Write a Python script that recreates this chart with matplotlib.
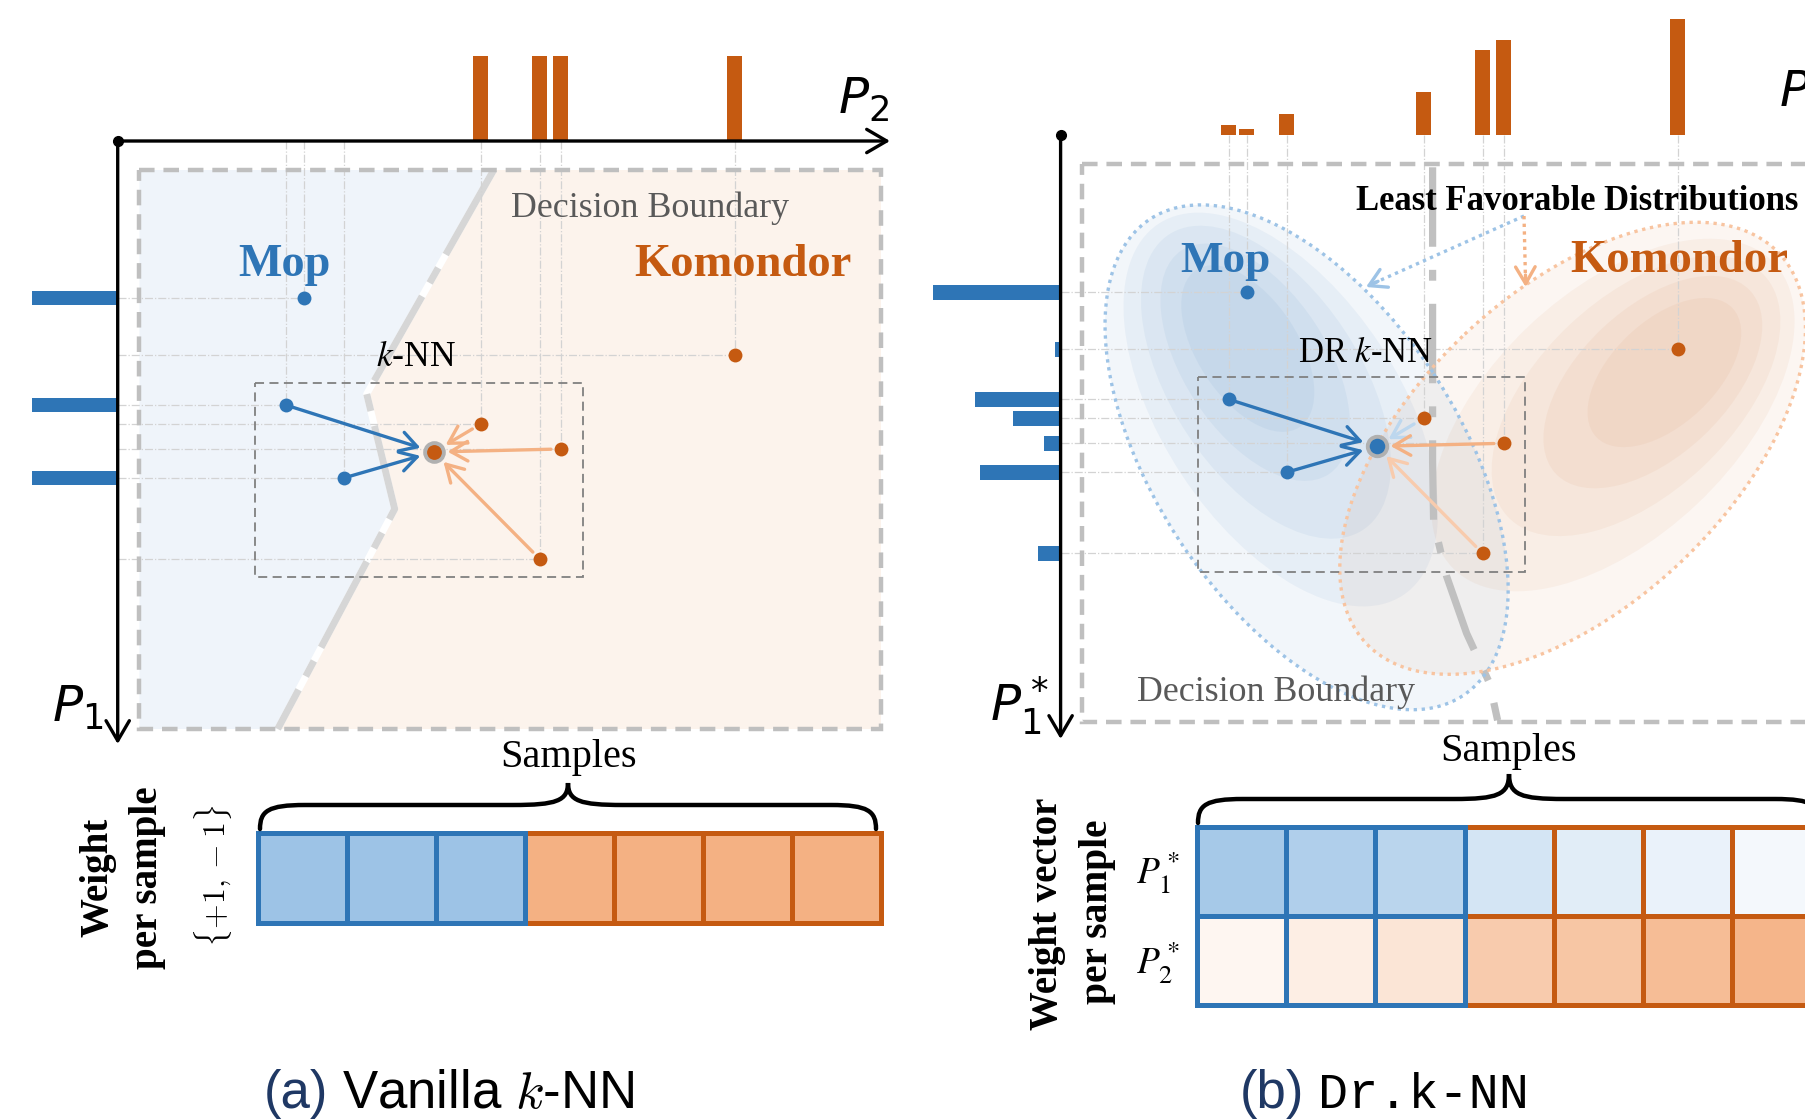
import numpy as np
import matplotlib
matplotlib.use('Agg')
import matplotlib.pyplot as plt
from matplotlib.patches import Rectangle, Polygon, Ellipse, FancyArrowPatch, PathPatch
from matplotlib.path import Path
import matplotlib.font_manager as fm

# ---------------- data (feature-space positions relative to each panel origin) -------------
blue_p2 = [186, 168, 226]
blue_p1 = [157, 264, 337]
orange_p2 = [617, 363, 443, 422]
orange_p1 = [214, 283, 308, 418]
query_p2, query_p1 = 316, 311

# panel (a) marginal weights (vanilla: only own class)
a_top_orange = [85, 85, 85, 85]
a_left_blue = [86, 86, 86]
# panel (b) marginal weights (least favorable distributions)
b_top_blue = [6, 10.5, 21.5]
b_top_orange = [116, 43.5, 95, 85]
b_left_blue = [128, 85.5, 81]
b_left_orange = [6, 47.5, 17, 22.5]

# weight cells
a_cell_shades = [0.6, 0.6, 0.6, 0.6, 0.6, 0.6, 0.6]
a_cell_class = ['b', 'b', 'b', 'o', 'o', 'o', 'o']
b_row1_shades = [0.54, 0.48, 0.42, 0.26, 0.18, 0.13, 0.07]
b_row2_shades = [0.07, 0.13, 0.20, 0.40, 0.44, 0.51, 0.57]

# decision boundaries
a_bound_p2 = [376, 249, 277, 160]
a_bound_p1 = [29, 253, 368, 588]
b_bound_p2 = [372, 372, 373, 386, 406, 429, 437]
b_bound_p1 = [32, 326, 387, 441, 498, 548, 585]

# least favorable distributions (ellipse params)
lfd_blue = dict(c=(246, 322), peak=(180, 200), a=285, b=152, ang=56.7)
lfd_orange = dict(c=(512, 313), peak=(615, 228), a=284, b=157, ang=-43.4)
lfd_levels = [1.0, 0.78, 0.62, 0.47, 0.33]

# ---------------- styles ----------------
BLUE = '#2e75b6'
ORANGE = '#c55a11'
LBLUE = '#9dc3e6'
LORANGE = '#f4b183'
CELL_B = np.array([91, 155, 213]) / 255
CELL_O = np.array([237, 125, 49]) / 255
GRID = '#d3d3d3'

plt.rcParams['font.family'] = ['Liberation Serif', 'DejaVu Serif']

names = {f.name for f in fm.fontManager.ttflist}
if 'Liberation Sans Narrow' in names:
    cap_family, cap_fs = 'Liberation Sans Narrow', 45
else:
    cap_family, cap_fs = 'Liberation Sans', 38
mono_family = 'Liberation Mono' if 'Liberation Mono' in names else 'DejaVu Sans Mono'

fig = plt.figure(figsize=(18.06, 11.2), dpi=100)
ax = fig.add_axes([0, 0, 1, 1])
ax.set_xlim(0, 1806)
ax.set_ylim(1120, 0)
ax.axis('off')

OA = (117.7, 141.0)
OB = (1060.6, 135.3)


def absx(o, v):
    return o[0] + np.asarray(v, dtype=float)


def absy(o, v):
    return o[1] + np.asarray(v, dtype=float)


def shade(base, t):
    return tuple(1 - t * (1 - base))


def arrow(x0, y0, x1, y1, color, lw=2.4, sA=5, sB=10, z=6):
    ax.add_patch(FancyArrowPatch((x0, y0), (x1, y1),
                                 arrowstyle='->,head_length=0.55,head_width=0.32',
                                 color=color, lw=lw, shrinkA=sA, shrinkB=sB,
                                 mutation_scale=22, zorder=z))


def axes_arrows(o, xend, yend):
    ax.annotate('', xy=(xend, o[1]), xytext=(o[0], o[1]),
                arrowprops=dict(arrowstyle='->,head_length=0.6,head_width=0.35',
                                lw=2.4, color='black', mutation_scale=24,
                                shrinkA=0, shrinkB=0), zorder=8)
    ax.annotate('', xy=(o[0], yend), xytext=(o[0], o[1]),
                arrowprops=dict(arrowstyle='->,head_length=0.6,head_width=0.35',
                                lw=2.4, color='black', mutation_scale=24,
                                shrinkA=0, shrinkB=0), zorder=8)
    ax.plot([o[0]], [o[1]], 'o', color='black', ms=7, zorder=9)


def gridlines(o):
    xs = np.concatenate([absx(o, blue_p2), absx(o, orange_p2)])
    ys = np.concatenate([absy(o, blue_p1), absy(o, orange_p1)])
    ax.vlines(xs, o[1], ys, colors=GRID, lw=0.9, linestyles='-.', zorder=2)
    ax.hlines(ys, o[0], xs, colors=GRID, lw=0.9, linestyles='-.', zorder=2)


def brace(xl, xr, yb, yl, yt):
    xm = (xl + xr) / 2
    r = 45
    r2 = 55
    verts = [(xl, yb),
             (xl, yl + 6), (xl + 8, yl), (xl + r, yl),
             (xm - r2, yl),
             (xm - 12, yl), (xm, yl - 4), (xm, yt),
             (xm, yl - 4), (xm + 12, yl), (xm + r2, yl),
             (xr - r, yl),
             (xr - 8, yl), (xr, yl + 6), (xr, yb)]
    codes = [Path.MOVETO, Path.CURVE4, Path.CURVE4, Path.CURVE4, Path.LINETO,
             Path.CURVE4, Path.CURVE4, Path.CURVE4, Path.CURVE4, Path.CURVE4, Path.CURVE4,
             Path.LINETO, Path.CURVE4, Path.CURVE4, Path.CURVE4]
    ax.add_patch(PathPatch(Path(verts, codes), fill=False, lw=3.2, edgecolor='black',
                           capstyle='round', zorder=5))


texts_to_fit = []


def label(x, y, s, target, size=25, vertical=False, **kw):
    t = ax.text(x, y, s, fontsize=size, ha='center', va='center',
                rotation=90 if vertical else 0, zorder=10, **kw)
    texts_to_fit.append((t, target, vertical))
    return t


# ======================= panel (a) =======================
rx0, ry0, rx1, ry1 = 139.5, 170, 881, 729
bx = absx(OA, a_bound_p2)
by = absy(OA, a_bound_p1)
blue_poly = [(rx0, ry0)] + list(zip(bx, by)) + [(rx0, ry1)]
orng_poly = list(zip(bx, by)) + [(rx1, ry1), (rx1, ry0)]
ax.add_patch(Polygon(blue_poly, closed=True, facecolor='#eff4fa', edgecolor='none', zorder=0))
ax.add_patch(Polygon(orng_poly, closed=True, facecolor='#fcf3ec', edgecolor='none', zorder=0))
ax.plot(bx, by, color='white', lw=5, zorder=1, solid_capstyle='butt')
ax.plot(bx, by, color='#d6d6d6', lw=5, zorder=1.1,
        linestyle=(0, (14, 2.2, 2.5, 2.2)), dash_capstyle='butt')
gridlines(OA)
ax.add_patch(Rectangle((rx0, ry0), rx1 - rx0, ry1 - ry0, fill=False, edgecolor='#bfbfbf',
                       lw=3.2, linestyle=(0, (3.5, 2)), zorder=3))
ax.add_patch(Rectangle((255.5, 382.6), 327.2, 194.4, fill=False, edgecolor='#808080',
                       lw=1.3, linestyle=(0, (5, 3)), zorder=3))
ax.bar(absx(OA, orange_p2), [-w for w in a_top_orange], bottom=OA[1], width=15,
       color=ORANGE, zorder=4)
ax.barh(absy(OA, blue_p1), [-w for w in a_left_blue], left=OA[0], height=14,
        color=BLUE, zorder=4)
axes_arrows(OA, 890, 744)

qa = (absx(OA, query_p2), absy(OA, query_p1))
abx, aby = absx(OA, blue_p2), absy(OA, blue_p1)
aox, aoy = absx(OA, orange_p2), absy(OA, orange_p1)
for i in [1, 2]:
    arrow(abx[i], aby[i], qa[0], qa[1], BLUE)
for i in [1, 2, 3]:
    arrow(aox[i], aoy[i], qa[0], qa[1], LORANGE, sA=7)
ax.plot(abx, aby, 'o', color=BLUE, ms=10, zorder=7, mec='none')
ax.plot(aox, aoy, 'o', color=ORANGE, ms=10, zorder=7, mec='none')
ax.plot([qa[0]], [qa[1]], 'o', color=ORANGE, ms=13.5, mec='#b0b0b0', mew=2.8, zorder=7)

label(650, 208, 'Decision Boundary', 279, color='#595959')
label(284, 265, 'Mop', 92, size=34, color=BLUE, fontweight='bold')
label(742.5, 265, 'Komondor', 217, size=34, color=ORANGE, fontweight='bold')
label(416, 358, r'$k$-NN', 80, math_fontfamily='stix', color='black')
ax.text(864, 100, r'$P_2$', fontsize=36, ha='center', va='center', family='DejaVu Sans')
ax.text(78, 708, r'$P_1$', fontsize=36, ha='center', va='center', family='DejaVu Sans')

# ======================= panel (b) =======================
for d, col, alpha in [(lfd_blue, BLUE, 0.06), (lfd_orange, ORANGE, 0.05)]:
    c0 = np.array(d['c'], float) + np.array(OB)
    pk = np.array(d['peak'], float) + np.array(OB)
    for s in lfd_levels:
        c = pk + (c0 - pk) * s ** 2
        ax.add_patch(Ellipse(c, 2 * d['a'] * s, 2 * d['b'] * s, angle=d['ang'],
                             facecolor=col, alpha=alpha, edgecolor='none', zorder=0.5))
for d, col in [(lfd_blue, LBLUE), (lfd_orange, '#f8c4a0')]:
    c0 = np.array(d['c'], float) + np.array(OB)
    ax.add_patch(Ellipse(c0, 2 * d['a'], 2 * d['b'], angle=d['ang'], fill=False,
                         edgecolor=col, lw=2.4, linestyle=(0, (1, 1.4)), zorder=3))
gridlines(OB)
ax.plot(absx(OB, b_bound_p2), absy(OB, b_bound_p1), color='#c0c0c0', lw=5.2, zorder=2.5,
        linestyle=(0, (11, 3.2, 1.5, 3.2)), dash_capstyle='butt')
ax.add_patch(Rectangle((1082, 164), 800, 558, fill=False, edgecolor='#bfbfbf',
                       lw=3.2, linestyle=(0, (3.5, 2)), zorder=3))
ax.add_patch(Rectangle((1197.6, 377), 327.4, 194.5, fill=False, edgecolor='#808080',
                       lw=1.3, linestyle=(0, (5, 3)), zorder=3))
ax.bar(np.concatenate([absx(OB, blue_p2), absx(OB, orange_p2)]),
       [-w for w in b_top_blue + b_top_orange], bottom=OB[1], width=15,
       color=ORANGE, zorder=4)
ax.barh(np.concatenate([absy(OB, blue_p1), absy(OB, orange_p1)]),
        [-w for w in b_left_blue + b_left_orange], left=OB[0], height=14.5,
        color=BLUE, zorder=4)
axes_arrows(OB, 1860, 739)

qb = (absx(OB, query_p2), absy(OB, query_p1))
bbx, bby = absx(OB, blue_p2), absy(OB, blue_p1)
box, boy = absx(OB, orange_p2), absy(OB, orange_p1)
for i in [1, 2]:
    arrow(bbx[i], bby[i], qb[0], qb[1], BLUE)
arrow(box[1], boy[1], qb[0], qb[1], '#bdd7ee', sA=8)
arrow(box[2], boy[2], qb[0], qb[1], LORANGE, sA=7)
arrow(box[3], boy[3], qb[0], qb[1], '#f8cbad', sA=7)
ax.plot(bbx, bby, 'o', color=BLUE, ms=10, zorder=7, mec='none')
ax.plot(box, boy, 'o', color=ORANGE, ms=10, zorder=7, mec='none')
ax.plot([qb[0]], [qb[1]], 'o', color=BLUE, ms=14, mec='#b0b0b0', mew=2.8, zorder=7)

# dotted pointers from the LFD label
ax.plot([1524, 1372], [216, 284], color=LBLUE, lw=2.4, linestyle=(0, (1, 1.3)), zorder=6)
arrow(1378, 281.3, 1366, 287, LBLUE, sA=0, sB=0)
ax.plot([1524, 1525.5], [216, 280], color=LORANGE, lw=2.4, linestyle=(0, (1, 1.3)), zorder=6)
arrow(1525.5, 275, 1525.7, 287, LORANGE, sA=0, sB=0)

label(1577.5, 202, 'Least Favorable Distributions', 442, color='black', fontweight='bold')
label(1225, 261, 'Mop', 90, size=34, color=BLUE, fontweight='bold')
label(1679, 261, 'Komondor', 218, size=34, color=ORANGE, fontweight='bold')
label(1365, 354, r'DR $k$-NN', 135, math_fontfamily='stix', color='black')
label(1276.5, 692, 'Decision Boundary', 279, color='#595959')
ax.text(1019, 706, r'$P_1^*$', fontsize=36, ha='center', va='center', family='DejaVu Sans')
ax.text(1779, 92, r'$P_2^*$', fontsize=36, ha='left', va='center', family='DejaVu Sans')

# ======================= weight cells =======================
# (a)
label(569, 758, 'Samples', 137, size=28, color='black')
brace(260, 876, 829, 805, 783)
cw, x0a, y0a, ch = 89, 258, 833, 90
for i, (t, cl) in enumerate(zip(a_cell_shades, a_cell_class)):
    base = CELL_B if cl == 'b' else CELL_O
    ax.add_patch(Rectangle((x0a + i * cw, y0a), cw, ch, facecolor=shade(base, t),
                           edgecolor=BLUE if cl == 'b' else ORANGE, lw=3.6, zorder=4))
ax.add_patch(Rectangle((x0a, y0a), 3 * cw, ch, fill=False, edgecolor=BLUE, lw=3.6, zorder=4.5))
label(98, 877, 'Weight', 119, size=29, vertical=True, fontweight='bold', color='black')
label(148, 878, 'per sample', 183, size=29, vertical=True, fontweight='bold', color='black')
label(213, 876, r'$\{+1,-1\}$', 142, size=24, vertical=True, math_fontfamily='cm', color='black')

# (b)
label(1509, 752, 'Samples', 137, size=28, color='black')
brace(1198, 1820, 823, 799, 774)
cwb, x0b, y0b, chb = 89.2, 1197, 827, 89
for r, shades in enumerate([b_row1_shades, b_row2_shades]):
    base = CELL_B if r == 0 else CELL_O
    for i, t in enumerate(shades):
        ax.add_patch(Rectangle((x0b + i * cwb, y0b + r * chb), cwb, chb,
                               facecolor=shade(base, t),
                               edgecolor=BLUE if i < 3 else ORANGE, lw=3.6, zorder=4))
ax.add_patch(Rectangle((x0b, y0b), 3 * cwb, 2 * chb, fill=False, edgecolor=BLUE, lw=3.6, zorder=4.5))
ax.text(1158, 873, r'$P_1^*$', fontsize=27, ha='center', va='center', math_fontfamily='stix')
ax.text(1158, 963, r'$P_2^*$', fontsize=27, ha='center', va='center', math_fontfamily='stix')
label(1048, 914, 'Weight vector', 232, size=28, vertical=True, fontweight='bold', color='black')
label(1098, 912, 'per sample', 185, size=28, vertical=True, fontweight='bold', color='black')

# ---------------- fit label sizes to reference widths ----------------
fig.canvas.draw()
rend = fig.canvas.get_renderer()
for t, target, vert in texts_to_fit:
    bb = t.get_window_extent(rend)
    cur = bb.height if vert else bb.width
    if cur > 0:
        t.set_fontsize(t.get_fontsize() * target / cur)

# ---------------- captions ----------------
NAVY = '#1f3864'
t1 = ax.text(264, 1108, '(a)', fontsize=cap_fs, family=cap_family, color=NAVY,
             ha='left', va='baseline')
t3 = ax.text(1240, 1108, '(b)', fontsize=cap_fs, family=cap_family, color=NAVY,
             ha='left', va='baseline')
fig.canvas.draw()
e1 = t1.get_window_extent(rend)
e3 = t3.get_window_extent(rend)
ax.text(e1.x1 + 14, 1108, r'Vanilla $k$-NN', fontsize=cap_fs, family=cap_family,
        color='black', ha='left', va='baseline', math_fontfamily='cm')
ax.text(e3.x1 + 14, 1108, 'Dr.k-NN', fontsize=cap_fs * 0.95, family=mono_family,
        color='black', ha='left', va='baseline')

fig.savefig('out.png', dpi=100)
